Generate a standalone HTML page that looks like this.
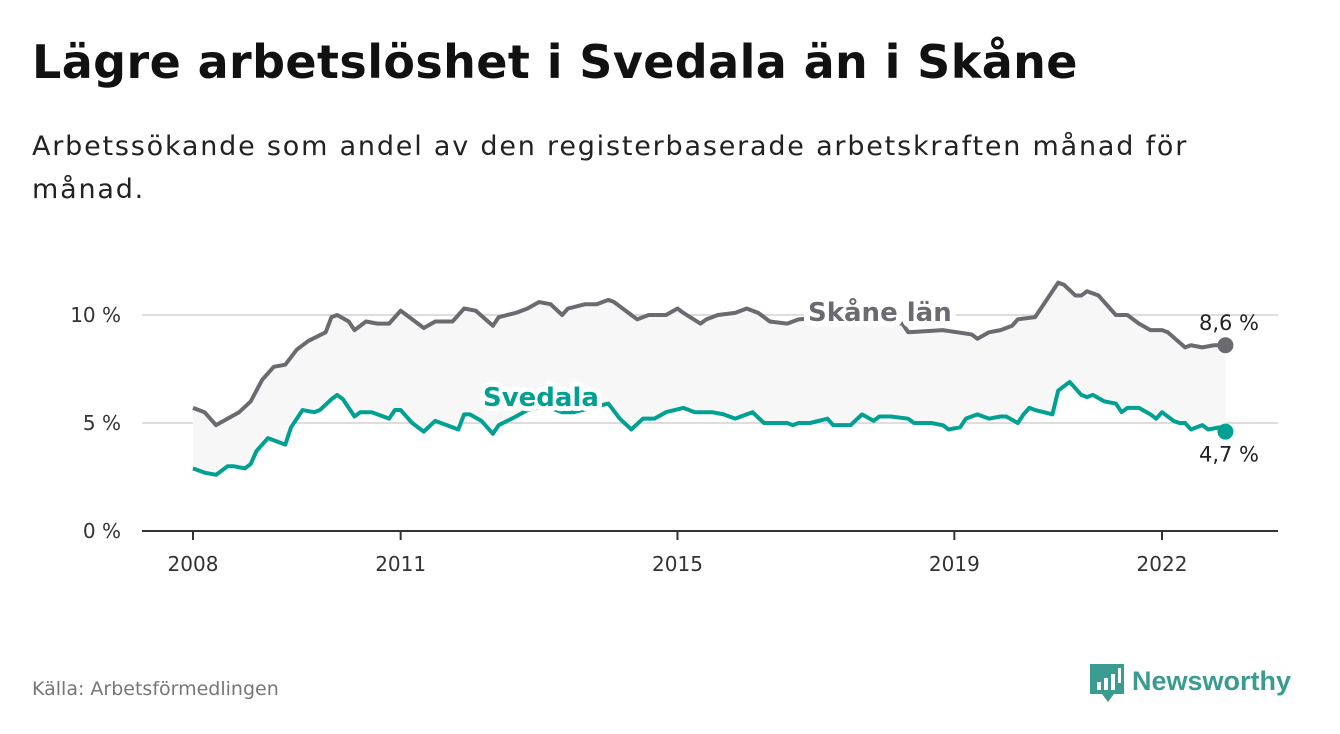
<!DOCTYPE html>
<html><head><meta charset="utf-8"><style>
body{margin:0;width:1340px;height:734px;background:#fff;font-family:"DejaVu Sans","Liberation Sans",sans-serif;overflow:hidden}
#title{position:absolute;left:32px;top:35px;font-size:46px;font-weight:bold;color:#111;margin:0;letter-spacing:0.4px}
#sub{position:absolute;left:32px;top:125px;font-size:27px;color:#222;line-height:43px;width:1180px;letter-spacing:1.8px}
#src{position:absolute;left:32px;top:678px;font-size:19px;color:#777}
#logo{position:absolute;left:1088px;top:660px}
text{font-family:"DejaVu Sans","Liberation Sans",sans-serif}
</style></head><body>
<h1 id="title">Lägre arbetslöshet i Svedala än i Skåne</h1>
<div id="sub">Arbetssökande som andel av den registerbaserade arbetskraften månad för månad.</div>
<svg id="chart" width="1340" height="734" style="position:absolute;left:0;top:0"></svg>
<div id="src">Källa: Arbetsförmedlingen</div>
<svg id="logo" width="230" height="48">
<path d="M2 4h34v30h-10l-6 8-6-8H2z" fill="#3a9c90"/>
<rect x="9" y="22" width="4" height="8" fill="#fff"/><rect x="16" y="18" width="4" height="12" fill="#fff"/><rect x="23" y="14" width="4" height="16" fill="#fff"/><rect x="30" y="8" width="3" height="15" fill="#fff"/>
<text x="44" y="30" font-size="27" font-weight="bold" fill="#3a9c90" style="font-family:'Liberation Sans',sans-serif">Newsworthy</text>
</svg>
<script>
const yTicks=[0,5,10];
const yTickLabels=["0 %","5 %","10 %"];
const xTickMonths=[0,36,84,132,168];
const xTickLabels=["2008","2011","2015","2019","2022"];
const skaneMonths=[0,2,4,6,8,10,12,14,16,18,20,23,24,25,27,28,30,32,34,36,37,40,42,45,47,49,52,53,56,58,60,62,64,65,68,70,72,73,76,77,79,82,84,85,88,89,91,94,96,98,100,103,105,110,117,123,124,130,135,136,138,140,142,143,146,148,150,151,153,154,155,157,160,162,164,166,168,169,172,173,175,177,179];
const skaneValues=[5.7,5.5,4.9,5.2,5.5,6.0,7.0,7.6,7.7,8.4,8.8,9.2,9.9,10.0,9.7,9.3,9.7,9.6,9.6,10.2,10.0,9.4,9.7,9.7,10.3,10.2,9.5,9.9,10.1,10.3,10.6,10.5,10.0,10.3,10.5,10.5,10.7,10.6,10.0,9.8,10.0,10.0,10.3,10.1,9.6,9.8,10.0,10.1,10.3,10.1,9.7,9.6,9.8,9.9,9.8,9.6,9.2,9.3,9.1,8.9,9.2,9.3,9.5,9.8,9.9,10.7,11.5,11.4,10.9,10.9,11.1,10.9,10.0,10.0,9.6,9.3,9.3,9.2,8.5,8.6,8.5,8.6,8.6];
const svedalaMonths=[0,2,4,6,7,9,10,11,13,16,17,19,21,22,24,25,26,28,29,31,34,35,36,38,40,42,46,47,48,50,52,53,56,58,61,64,66,69,72,74,76,78,80,82,85,87,90,92,94,97,99,103,104,105,107,110,111,114,116,118,119,121,124,125,128,130,131,133,134,136,138,140,141,143,144,145,146,149,150,152,154,155,156,158,160,161,162,164,166,167,168,170,171,172,173,175,176,178,179];
const svedalaValues=[2.9,2.7,2.6,3.0,3.0,2.9,3.1,3.7,4.3,4.0,4.8,5.6,5.5,5.6,6.1,6.3,6.1,5.3,5.5,5.5,5.2,5.6,5.6,5.0,4.6,5.1,4.7,5.4,5.4,5.1,4.5,4.9,5.3,5.6,5.8,5.5,5.5,5.7,5.9,5.2,4.7,5.2,5.2,5.5,5.7,5.5,5.5,5.4,5.2,5.5,5.0,5.0,4.9,5.0,5.0,5.2,4.9,4.9,5.4,5.1,5.3,5.3,5.2,5.0,5.0,4.9,4.7,4.8,5.2,5.4,5.2,5.3,5.3,5.0,5.4,5.7,5.6,5.4,6.5,6.9,6.3,6.2,6.3,6.0,5.9,5.5,5.7,5.7,5.4,5.2,5.5,5.1,5.0,5.0,4.7,4.9,4.7,4.8,4.6,4.7];
const lastLabels=["8,6 %","4,7 %"];
const NS="http://www.w3.org/2000/svg";
const svg=document.getElementById('chart');
const x=m=>193+m*(969/168);
const y=v=>531-v*21.6;
function mk(t,a,p){const e=document.createElementNS(NS,t);for(const k in a)e.setAttribute(k,a[k]);(p||svg).appendChild(e);return e;}
yTicks.forEach((t,i)=>{
 if(t>0){const g=mk('line',{x1:142,x2:1278,y1:y(t),y2:y(t),stroke:'#ddd','stroke-width':2});
 
 }
 const l=mk('text',{x:121,y:y(t)+7,'text-anchor':'end','font-size':20,fill:'#333'});l.textContent=yTickLabels[i];
 
 
});
let pts=skaneMonths.map((m,i)=>x(m)+','+y(skaneValues[i]));
let pts2=svedalaMonths.map((m,i)=>x(m)+','+y(svedalaValues[i])).reverse();
const area=mk('polygon',{points:pts.concat(pts2).join(' '),fill:'#f7f7f7'});


const ax=mk('line',{x1:142,x2:1278,y1:531,y2:531,stroke:'#333','stroke-width':2});


xTickMonths.forEach((m,i)=>{
 mk('line',{x1:x(m),x2:x(m),y1:531,y2:540,stroke:'#333','stroke-width':2});
 const l=mk('text',{x:x(m),y:571,'text-anchor':'middle','font-size':20,fill:'#333'});l.textContent=xTickLabels[i];
 
 
});
const sk=mk('polyline',{points:pts.join(' '),fill:'none',stroke:'#6b6a70','stroke-width':4,'stroke-linejoin':'round'});


const sv=mk('polyline',{points:svedalaMonths.map((m,i)=>x(m)+','+y(svedalaValues[i])).join(' '),fill:'none',stroke:'#00a193','stroke-width':4,'stroke-linejoin':'round'});


const lm=skaneMonths.length-1, ln=svedalaMonths.length-1;
const d1=mk('circle',{cx:x(skaneMonths[lm]),cy:y(skaneValues[lm]),r:8,fill:'#6b6a70'});


const d2=mk('circle',{cx:x(svedalaMonths[ln]),cy:y(svedalaValues[ln]),r:8,fill:'#00a193'});


const t1=mk('text',{x:1259,y:y(skaneValues[lm])-15,'text-anchor':'end','font-size':21,fill:'#222'});t1.textContent=lastLabels[0];


const t2=mk('text',{x:1259,y:y(svedalaValues[ln])+30,'text-anchor':'end','font-size':21,fill:'#222'});t2.textContent=lastLabels[1];


const s1=mk('text',{x:808,y:321,'font-size':26,'font-weight':'bold',fill:'#6b6a70',stroke:'#fff','stroke-width':12,'stroke-linejoin':'round','paint-order':'stroke'});s1.textContent='Skåne län';


const s2=mk('text',{x:483,y:406,'font-size':26,'font-weight':'bold',fill:'#00a193',stroke:'#fff','stroke-width':10,'stroke-linejoin':'round','paint-order':'stroke'});s2.textContent='Svedala';


</script>
</body></html>
